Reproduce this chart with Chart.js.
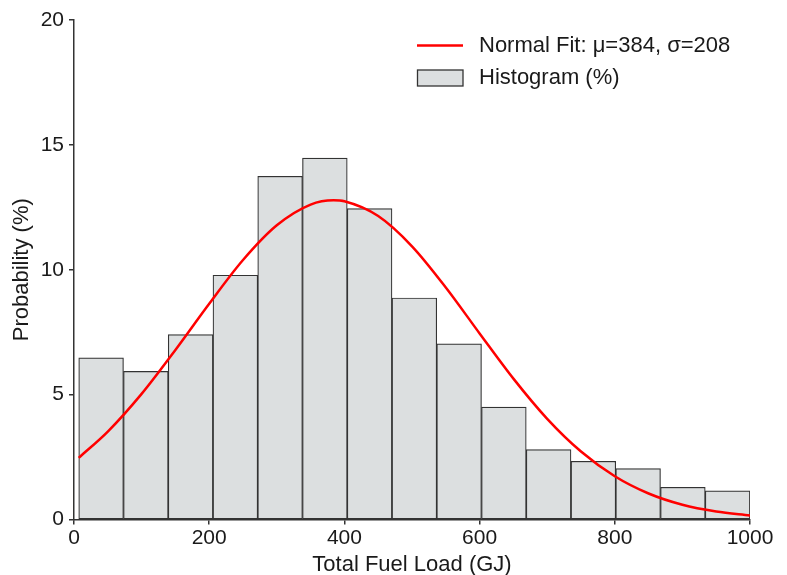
<!DOCTYPE html>
<html>
<head>
<meta charset="utf-8">
<script src="https://cdn.jsdelivr.net/npm/chart.js@4/dist/chart.umd.min.js"></script>
<style>
html,body{margin:0;padding:0;background:#fff;}
#c{display:block;}
</style>
</head>
<body>
<canvas id="c" width="787" height="575"></canvas>
<script>
// Histogram bins (centres, GJ) and heights (%)
const binCenters = [40.1, 106.3, 172.5, 238.7, 304.9, 371.1, 437.3, 503.5, 569.7, 635.9, 702.1, 768.3, 834.5, 900.7, 966.9];
const histValues = [6.47, 5.93, 7.40, 9.78, 13.74, 14.47, 12.45, 8.87, 7.03, 4.50, 2.80, 2.33, 2.04, 1.29, 1.15];

// Normal fit curve
const fitX = [7, 50, 100, 150, 200, 250, 300, 350, 384, 400, 450, 500, 550, 600, 650, 700, 750, 800, 850, 900, 950, 1000];
const fitY = [2.47, 3.52, 5.03, 6.79, 8.64, 10.39, 11.78, 12.61, 12.78, 12.74, 12.15, 10.94, 9.29, 7.45, 5.64, 4.03, 2.72, 1.73, 1.04, 0.59, 0.32, 0.16];

const xTickStep = 200;
const yTickStep = 5;

const fitLabel = 'Normal Fit: \u03bc=384, \u03c3=208';
const histLabel = 'Histogram (%)';

const FONT = '"Liberation Sans", Arial, Helvetica, sans-serif';
const TXT = '#1a1a1a';
const AX = '#333333';

const legendPlugin = {
  id: 'insideLegend',
  afterDraw(chart) {
    const ctx = chart.ctx;
    ctx.save();
    ctx.strokeStyle = '#ff0000';
    ctx.lineWidth = 2.5;
    ctx.beginPath();
    ctx.moveTo(417, 45.5);
    ctx.lineTo(463, 45.5);
    ctx.stroke();
    ctx.fillStyle = '#dcdfe0';
    ctx.fillRect(417.5, 70, 45.5, 16);
    ctx.strokeStyle = AX;
    ctx.lineWidth = 1.3;
    ctx.strokeRect(417.5, 70, 45.5, 16);
    ctx.fillStyle = TXT;
    ctx.font = '22px ' + FONT;
    ctx.textBaseline = 'middle';
    ctx.textAlign = 'left';
    ctx.fillText(chart.data.datasets[0].label, 479, 46);
    ctx.fillText(chart.data.datasets[1].label, 479, 78);
    ctx.restore();
  }
};

new Chart(document.getElementById('c'), {
  data: {
    datasets: [
      {
        type: 'line',
        label: fitLabel,
        data: fitX.map((x, i) => ({x: x, y: fitY[i]})),
        borderColor: '#ff0000',
        borderWidth: 2.5,
        pointRadius: 0,
        cubicInterpolationMode: 'monotone',
        fill: false,
        order: 0
      },
      {
        type: 'bar',
        label: histLabel,
        data: binCenters.map((x, i) => ({x: x, y: histValues[i]})),
        backgroundColor: '#dcdfe0',
        borderColor: AX,
        borderWidth: 1.2,
        borderSkipped: false,
        barPercentage: 1,
        categoryPercentage: 1,
        order: 1
      }
    ]
  },
  options: {
    responsive: false,
    animation: false,
    events: [],
    layout: {padding: {left: 0, right: 37, top: 20, bottom: 0}},
    plugins: {legend: {display: false}, tooltip: {enabled: false}},
    scales: {
      x: {
        type: 'linear',
        min: 0, max: 1000,
        offset: false,
        afterFit(s) { s.height = 55.5; },
        border: {color: AX, width: 1.5},
        grid: {display: true, offset: false, drawOnChartArea: false, drawTicks: true, tickLength: 5, color: AX, lineWidth: 1.5},
        ticks: {stepSize: xTickStep, autoSkip: false, color: TXT, font: {size: 21, family: FONT}, padding: 1, maxRotation: 0,
                callback: v => String(v)},
        title: {display: true, text: 'Total Fuel Load (GJ)', color: TXT, font: {size: 22, family: FONT}, padding: {top: 0, bottom: -3}}
      },
      y: {
        type: 'linear',
        min: 0, max: 20,
        afterFit(s) { s.width = 74; },
        border: {color: AX, width: 1.5},
        grid: {display: true, offset: false, drawOnChartArea: false, drawTicks: true, tickLength: 5, color: AX, lineWidth: 1.5},
        ticks: {stepSize: yTickStep, autoSkip: false, color: TXT, font: {size: 21, family: FONT}, padding: 5,
                callback: v => String(v)},
        title: {display: true, text: 'Probability (%)', color: TXT, font: {size: 22, family: FONT}, padding: {top: 9, bottom: 0}}
      }
    }
  },
  plugins: [legendPlugin]
});
</script>
</body>
</html>
